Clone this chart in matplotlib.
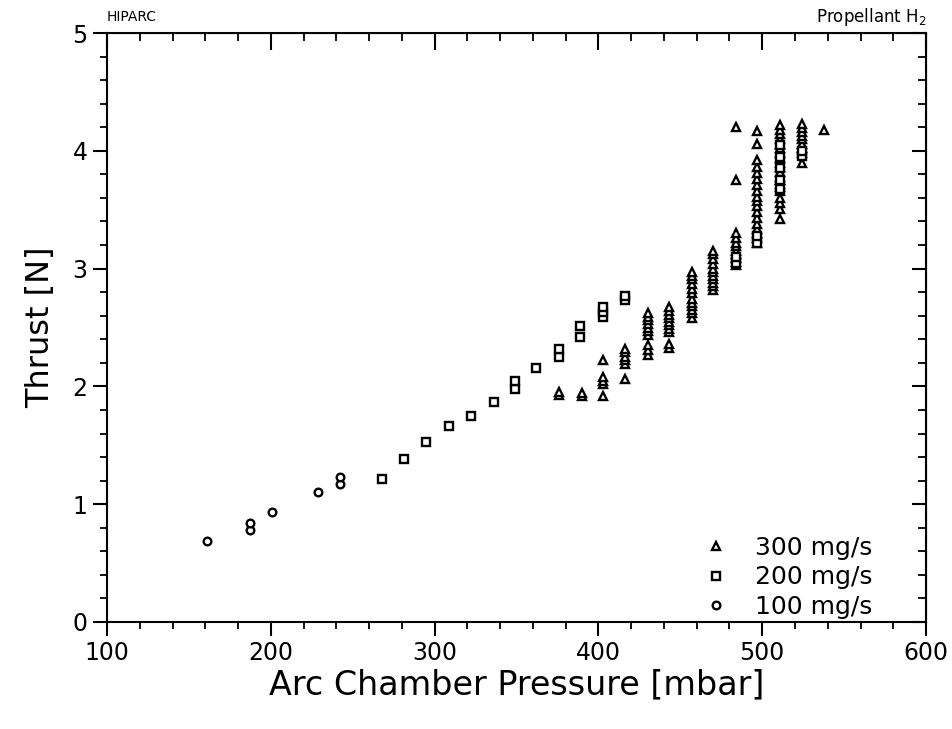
#thrust vs arc chamber pressure, HIPARC H2
import matplotlib
matplotlib.use("Agg")
import matplotlib.pyplot as plt
from matplotlib.ticker import MultipleLocator

# 300 mg/s (triangles)
p_300 = [376, 376,
         390, 390,
         403, 403, 403, 403, 403,
         416, 416, 416, 416, 416, 416,
         430, 430, 430, 430, 430, 430, 430, 430, 430, 430,
         443, 443, 443, 443, 443, 443, 443, 443, 443, 443,
         457, 457, 457, 457, 457, 457, 457, 457, 457, 457, 457, 457,
         470, 470, 470, 470, 470, 470, 470, 470, 470, 470, 470,
         484, 484, 484, 484, 484, 484, 484, 484, 484, 484, 484,
         497, 497, 497, 497, 497, 497, 497, 497, 497, 497, 497, 497, 497, 497, 497, 497, 497, 497,
         511, 511, 511, 511, 511, 511, 511, 511, 511, 511, 511, 511, 511, 511, 511, 511, 511, 511, 511, 511,
         524, 524, 524, 524, 524, 524, 524, 524, 524,
         538]
t_300 = [1.93, 1.95,
         1.92, 1.94,
         1.92, 2.02, 2.05, 2.08, 2.22,
         2.06, 2.19, 2.22, 2.25, 2.29, 2.32,
         2.27, 2.31, 2.35, 2.44, 2.47, 2.50, 2.53, 2.56, 2.59, 2.62,
         2.33, 2.36, 2.46, 2.49, 2.52, 2.55, 2.58, 2.61, 2.64, 2.67,
         2.58, 2.62, 2.65, 2.68, 2.71, 2.74, 2.79, 2.83, 2.87, 2.91, 2.94, 2.97,
         2.82, 2.85, 2.88, 2.91, 2.94, 2.97, 3.00, 3.04, 3.08, 3.12, 3.15,
         3.03, 3.06, 3.09, 3.12, 3.15, 3.19, 3.22, 3.26, 3.30, 3.75, 4.20,
         3.22, 3.26, 3.30, 3.34, 3.38, 3.43, 3.48, 3.53, 3.57, 3.61, 3.66, 3.71, 3.76, 3.81, 3.86, 3.92, 4.06, 4.17,
         3.42, 3.51, 3.56, 3.60, 3.66, 3.69, 3.72, 3.75, 3.78, 3.82, 3.86, 3.90, 3.94, 3.98, 4.02, 4.06, 4.10, 4.14, 4.18, 4.22,
         3.90, 3.98, 4.02, 4.06, 4.10, 4.13, 4.16, 4.19, 4.23,
         4.18]

# 200 mg/s (squares)
p_200 = [268, 281, 295, 309, 322, 336, 349, 349, 362, 376, 376, 389, 389,
         403, 403, 403, 416, 416,
         484, 484, 497, 497, 511, 511, 511, 511, 511, 524, 524]
t_200 = [1.21, 1.38, 1.53, 1.66, 1.75, 1.87, 1.98, 2.05, 2.16, 2.25, 2.32, 2.42, 2.51,
         2.59, 2.63, 2.67, 2.73, 2.77,
         3.05, 3.10, 3.22, 3.28, 3.68, 3.75, 3.85, 3.95, 4.05, 3.96, 4.00]

# 100 mg/s (circles)
p_100 = [161, 187, 187, 201, 229, 242, 242]
t_100 = [0.69, 0.78, 0.84, 0.93, 1.10, 1.17, 1.23]

series = [
    (p_300, t_300, "^", "300 mg/s"),
    (p_200, t_200, "s", "200 mg/s"),
    (p_100, t_100, "o", "100 mg/s"),
]

fig = plt.figure(figsize=(9.53, 7.29), dpi=100)
ax = fig.add_axes([0.1123, 0.1468, 0.8594, 0.8079])

for p, t, m, lab in series:
    ax.plot(p, t, linestyle="none", marker=m, ms=5.5, mfc="white",
            mec="black", mew=1.7, label=lab)

ax.set_xlim(100, 600)
ax.set_ylim(0, 5)
ax.xaxis.set_major_locator(MultipleLocator(100))
ax.xaxis.set_minor_locator(MultipleLocator(20))
ax.yaxis.set_major_locator(MultipleLocator(1))
ax.yaxis.set_minor_locator(MultipleLocator(0.2))
for s in ax.spines.values():
    s.set_linewidth(1.5)
ax.tick_params(which="major", direction="out", length=10, width=1.5, labelsize=17, pad=4)
ax.tick_params(which="minor", direction="out", length=5, width=1.3)

# inward ticks on top and right
top = ax.secondary_xaxis("top")
top.xaxis.set_major_locator(MultipleLocator(100))
top.xaxis.set_minor_locator(MultipleLocator(20))
top.tick_params(which="major", direction="in", length=12, width=1.5, labeltop=False)
top.tick_params(which="minor", direction="in", length=6, width=1.3)
right = ax.secondary_yaxis("right")
right.yaxis.set_major_locator(MultipleLocator(1))
right.yaxis.set_minor_locator(MultipleLocator(0.2))
right.tick_params(which="major", direction="in", length=10, width=1.5, labelright=False)
right.tick_params(which="minor", direction="in", length=6, width=1.3)

ax.set_xlabel("Arc Chamber Pressure [mbar]", fontsize=24, labelpad=2)
ax.set_ylabel("Thrust [N]", fontsize=23, labelpad=12)

ax.text(0.0, 1.015, "HIPARC", transform=ax.transAxes, fontsize=10, ha="left", va="bottom")
ax.text(1.0, 1.008, r"Propellant H$_2$", transform=ax.transAxes, fontsize=12, ha="right", va="bottom")

ax.legend(loc="lower right", frameon=False, fontsize=18, handlelength=1.0,
          handletextpad=1.06, labelspacing=0.23, borderaxespad=0.0,
          bbox_to_anchor=(0.947, -0.012))

fig.savefig("out.png", dpi=100)
